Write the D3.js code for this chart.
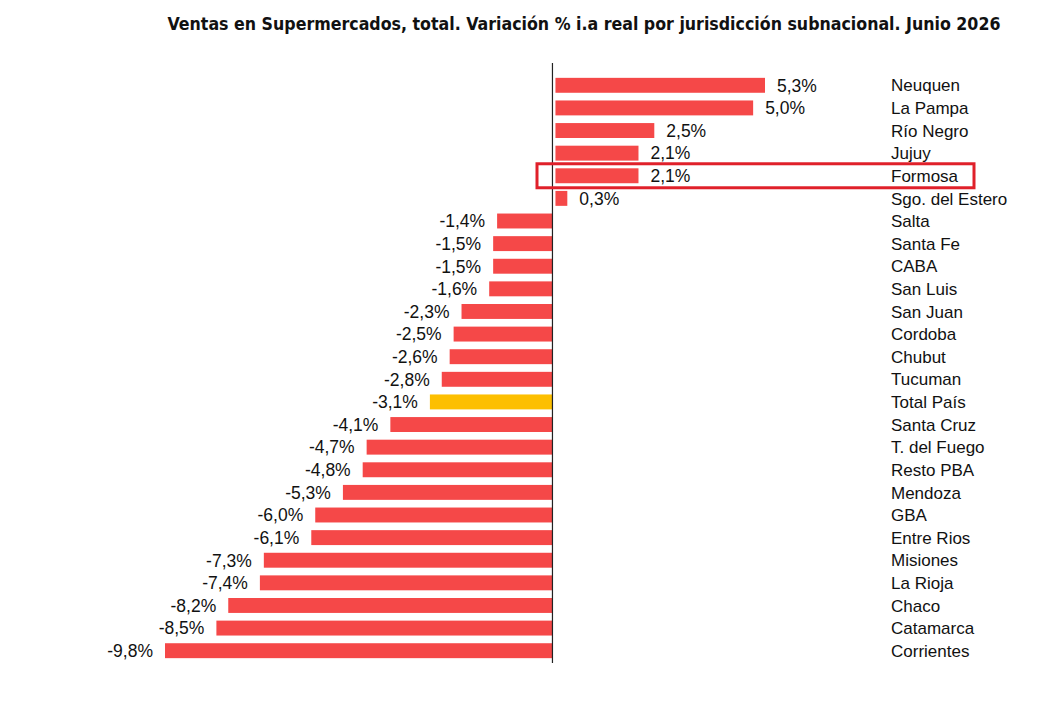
<!DOCTYPE html>
<html>
<head>
<meta charset="utf-8">
<script src="https://cdn.jsdelivr.net/npm/d3@7"></script>
<style>
  body { margin: 0; background: #fff; }
  svg { display: block; }
</style>
</head>
<body>
<svg id="chart" width="1039" height="709"></svg>
<script>
// jurisdictions, top to bottom
const regions = ['Neuquen', 'La Pampa', 'Río Negro', 'Jujuy', 'Formosa', 'Sgo. del Estero',
    'Salta', 'Santa Fe', 'CABA', 'San Luis', 'San Juan', 'Cordoba', 'Chubut', 'Tucuman',
    'Total País', 'Santa Cruz', 'T. del Fuego', 'Resto PBA', 'Mendoza', 'GBA', 'Entre Rios',
    'Misiones', 'La Rioja', 'Chaco', 'Catamarca', 'Corrientes']
const variation = [5.3, 5.0, 2.5, 2.1, 2.1, 0.3,
    -1.4, -1.5, -1.5, -1.6, -2.3, -2.5, -2.6, -2.8,
    -3.1, -4.1, -4.7, -4.8, -5.3, -6.0, -6.1,
    -7.3, -7.4, -8.2, -8.5, -9.8]
const totalName = 'Total País'
const highlighted = 'Formosa'
const title = 'Ventas en Supermercados, total. Variación % i.a real por jurisdicción subnacional. Junio 2026'

const rows = regions.map((name, i) => ({ name, value: variation[i] }))

const svg = d3.select('#chart')
const font = '"Liberation Sans", Arial, sans-serif'

const x = d3.scaleLinear().domain([-9.8, 5.3]).range([165, 762])
const y = d3.scaleBand().domain(regions).range([74, 662]).paddingInner(0.34).paddingOuter(0.17)

// title, font size fitted to the reference width
const titleText = svg.append('text')
    .attr('x', 584)
    .attr('y', 30)
    .attr('text-anchor', 'middle')
    .style('font-family', '"Liberation Sans Narrow", "DejaVu Sans Condensed", Arial, sans-serif')
    .style('font-weight', 'bold')
    .style('font-size', '19px')
    .style('fill', '#111')
    .text(title)
const natural = titleText.node().getComputedTextLength()
titleText.style('font-size', (19 * 834 / natural).toFixed(2) + 'px')

// bars
svg.selectAll('rect.bar')
    .data(rows)
    .enter().append('rect')
    .attr('class', 'bar')
    .attr('x', d => d.value >= 0 ? x(0) + 3 : x(d.value))
    .attr('width', d => d.value >= 0 ? x(d.value) - x(0) : x(0) - x(d.value))
    .attr('y', d => y(d.name))
    .attr('height', y.bandwidth())
    .style('fill', d => d.name == totalName ? '#fdbf00' : '#f54848')

// zero line
svg.append('line')
    .attr('x1', x(0)).attr('x2', x(0))
    .attr('y1', 63).attr('y2', 663)
    .style('stroke', '#222')
    .style('stroke-width', 1.2)

const fmt = v => d3.format('.1f')(v).replace('.', ',').replace('−', '-') + '%'

// value labels
svg.selectAll('text.val')
    .data(rows)
    .enter().append('text')
    .attr('class', 'val')
    .attr('x', d => d.value >= 0 ? x(d.value) + 15 : x(d.value) - 12)
    .attr('y', d => y(d.name) + y.bandwidth() / 2)
    .attr('dy', '0.36em')
    .attr('text-anchor', d => d.value >= 0 ? 'start' : 'end')
    .style('font-family', font)
    .style('font-size', '17.5px')
    .style('fill', '#111')
    .text(d => fmt(d.value))

// category names
svg.selectAll('text.cat')
    .data(rows)
    .enter().append('text')
    .attr('class', 'cat')
    .attr('x', 891)
    .attr('y', d => y(d.name) + y.bandwidth() / 2)
    .attr('dy', '0.36em')
    .style('font-family', font)
    .style('font-size', '17px')
    .style('fill', '#111')
    .text(d => d.name)

// highlight box
svg.append('rect')
    .attr('x', 537)
    .attr('y', y(highlighted) + y.bandwidth() / 2 - 12)
    .attr('width', 437)
    .attr('height', 24)
    .style('fill', 'none')
    .style('stroke', '#e0202a')
    .style('stroke-width', 3)
</script>
</body>
</html>
